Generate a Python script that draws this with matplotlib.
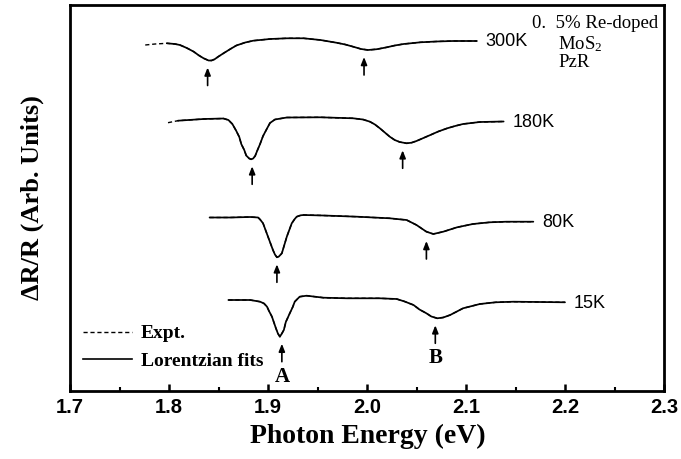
import matplotlib
matplotlib.use("Agg")
import matplotlib.pyplot as plt
from matplotlib.lines import Line2D
import numpy as np

plt.rcParams['mathtext.fontset'] = 'custom'
plt.rcParams['mathtext.rm'] = 'Liberation Serif'
plt.rcParams['mathtext.it'] = 'Liberation Serif:italic'
plt.rcParams['mathtext.bf'] = 'Liberation Serif:bold'

# ---------------- data ----------------
temps = ['300K', '180K', '80K', '15K']

e_300 = [1.776, 1.786, 1.798, 1.806, 1.811, 1.818, 1.825, 1.830, 1.835, 1.840, 1.843,
         1.846, 1.850, 1.855, 1.862, 1.868, 1.877, 1.885, 1.902, 1.919, 1.936, 1.953,
         1.969, 1.978, 1.986, 1.994, 2.001, 2.010, 2.020, 2.028, 2.037, 2.054, 2.070,
         2.087, 2.111]
r_300 = [346.0, 347.0, 347.7, 347.0, 346.0, 343.0, 339.3, 335.7, 332.7, 330.5, 330.5,
         331.7, 334.5, 337.7, 342.0, 345.5, 348.5, 350.3, 352.0, 352.7, 352.7, 351.0,
         348.3, 346.5, 344.3, 342.0, 341.0, 341.8, 343.7, 345.5, 347.0, 348.7, 349.5,
         350.0, 350.0]

e_180 = [1.799, 1.809, 1.835, 1.855, 1.860, 1.864, 1.868, 1.871, 1.873, 1.876, 1.878,
         1.881, 1.883, 1.885, 1.887, 1.889, 1.892, 1.895, 1.899, 1.902, 1.907, 1.919,
         1.953, 1.986, 1.996, 2.003, 2.008, 2.013, 2.018, 2.023, 2.028, 2.033, 2.040,
         2.045, 2.050, 2.057, 2.064, 2.072, 2.081, 2.089, 2.097, 2.114, 2.138]
r_180 = [268.3, 270.3, 272.0, 272.5, 271.0, 267.0, 260.0, 254.0, 247.0, 241.0, 235.5,
         232.5, 231.7, 232.5, 235.0, 240.0, 247.0, 255.0, 262.5, 268.0, 271.5, 273.5,
         273.7, 272.7, 271.5, 269.3, 266.5, 262.7, 258.5, 254.3, 251.0, 249.0, 247.7,
         248.3, 250.0, 253.0, 256.0, 259.5, 262.7, 265.0, 267.0, 269.0, 269.5]

e_80 = [1.841, 1.862, 1.882, 1.890, 1.892, 1.895, 1.900, 1.905, 1.907, 1.909, 1.911,
        1.914, 1.919, 1.924, 1.927, 1.929, 1.933, 1.936, 1.956, 1.990, 2.023, 2.040,
        2.050, 2.060, 2.067, 2.077, 2.091, 2.107, 2.124, 2.141, 2.168]
r_80 = [173.5, 173.5, 174.0, 173.5, 171.5, 167.7, 154.3, 141.0, 136.5, 133.7, 134.5,
        137.7, 154.3, 167.7, 172.0, 174.3, 175.7, 176.0, 175.5, 174.3, 172.7, 171.0,
        166.0, 159.3, 157.0, 159.3, 163.7, 167.0, 168.7, 169.3, 169.3]

e_15 = [1.860, 1.882, 1.892, 1.896, 1.899, 1.901, 1.904, 1.906, 1.908, 1.910, 1.912,
        1.914, 1.916, 1.918, 1.922, 1.925, 1.927, 1.932, 1.939, 1.956, 1.980, 2.013,
        2.030, 2.038, 2.047, 2.053, 2.060, 2.065, 2.071, 2.077, 2.084, 2.097, 2.114,
        2.130, 2.148, 2.200]
r_15 = [91.0, 91.0, 89.3, 87.5, 84.3, 80.0, 74.3, 68.5, 62.7, 57.5, 54.3,
        57.5, 61.0, 69.0, 77.7, 84.0, 89.3, 94.3, 95.3, 93.3, 92.7, 92.7,
        92.0, 89.5, 86.0, 81.5, 77.7, 74.5, 72.7, 73.5, 76.0, 82.7, 87.0,
        88.7, 89.3, 88.7]

# transition energies marked by arrows (A, B)
peaks_300 = [1.839, 1.997]
peaks_180 = [1.884, 2.036]
peaks_80 = [1.909, 2.060]
peaks_15 = [1.914, 2.069]

x_ticks = [1.7, 1.8, 1.9, 2.0, 2.1, 2.2, 2.3]
x_tick_labels = ['1.7', '1.8', '1.9', '2.0', '2.1', '2.2', '2.3']

energies = [e_300, e_180, e_80, e_15]
signals = [r_300, r_180, r_80, r_15]
peaks = [peaks_300, peaks_180, peaks_80, peaks_15]
fit_start = [2, 1, 0, 0]

# ---------------- figure ----------------
W, H = 681, 459
fig = plt.figure(figsize=(W / 100, H / 100), dpi=100)
L, R, T, B = 70, 664, 5, 391
ax = fig.add_axes([L / W, 1 - B / H, (R - L) / W, (B - T) / H])
ax.set_xlim(1.7, 2.3)
ax.set_ylim(0, B - T)

serif = 'Liberation Serif'
sans = 'Liberation Sans'

for i, t in enumerate(temps):
    e = np.array(energies[i])
    r = np.array(signals[i])
    ax.plot(e, r, color='black', lw=1.0, ls=(0, (3, 2)))
    s = fit_start[i]
    ax.plot(e[s:], r[s:], color='black', lw=1.25, solid_capstyle='round',
            solid_joinstyle='round')
    ax.text(e[-1] + 0.009, r[-1] - 1, t, fontsize=13, family=sans,
            ha='left', va='center')
    for j, p in enumerate(peaks[i]):
        near = np.abs(e - p) < 0.02
        head = r[near].min() - 7
        tail = head - 18
        ax.annotate('', xy=(p, head), xytext=(p, tail),
                    arrowprops=dict(arrowstyle='-|>,head_length=0.45,head_width=0.18',
                                    lw=1.2, color='black', shrinkA=0, shrinkB=0))
        if i == len(temps) - 1:
            ax.text(p, tail - 15, 'AB'[j], fontsize=15, family=serif,
                    fontweight='bold', ha='center', va='center')

# ticks and spines
ax.set_xticks(x_ticks)
ax.set_xticklabels(x_tick_labels, fontsize=14.5, family=sans, fontweight='bold')
ax.set_xticks(np.arange(1.75, 2.3, 0.1), minor=True)
ax.tick_params(axis='x', which='major', direction='in', length=5, width=1.8, pad=5,
               top=False)
ax.tick_params(axis='x', which='minor', direction='in', length=3, width=1.5, top=False)
ax.set_yticks([])
for sp in ax.spines.values():
    sp.set_linewidth(2.0)

# legend
handles = [Line2D([], [], color='black', lw=1.0, ls=(0, (3, 2))),
           Line2D([], [], color='black', lw=1.2)]
ax.legend(handles, ['Expt.', 'Lorentzian fits'], loc='lower left',
          bbox_to_anchor=(0.006, 0.03), frameon=False, borderpad=0,
          handlelength=2.5, handletextpad=0.45, labelspacing=0.5,
          prop=dict(family=serif, weight='bold', size=14))

# annotation top-right
ax.text(0.778, 0.953, '0.  5% Re-doped', transform=ax.transAxes, fontsize=13.5,
        family=serif, ha='left', va='center')
ax.text(0.8215, 0.899, r'MoS$_2$', transform=ax.transAxes, fontsize=13.5,
        family=serif, ha='left', va='center')
ax.text(0.8215, 0.850, 'PzR', transform=ax.transAxes, fontsize=13.5,
        family=serif, ha='left', va='center')

# axis labels
fig.text(367.5 / W, 1 - 436 / H, 'Photon Energy (eV)', fontsize=20, family=serif,
         fontweight='bold', ha='center', va='center')
fig.text(32 / W, 1 - 198 / H, 'ΔR/R (Arb. Units)', fontsize=19, family=serif,
         fontweight='bold', ha='center', va='center', rotation=90)

fig.savefig('out.png', dpi=100)
